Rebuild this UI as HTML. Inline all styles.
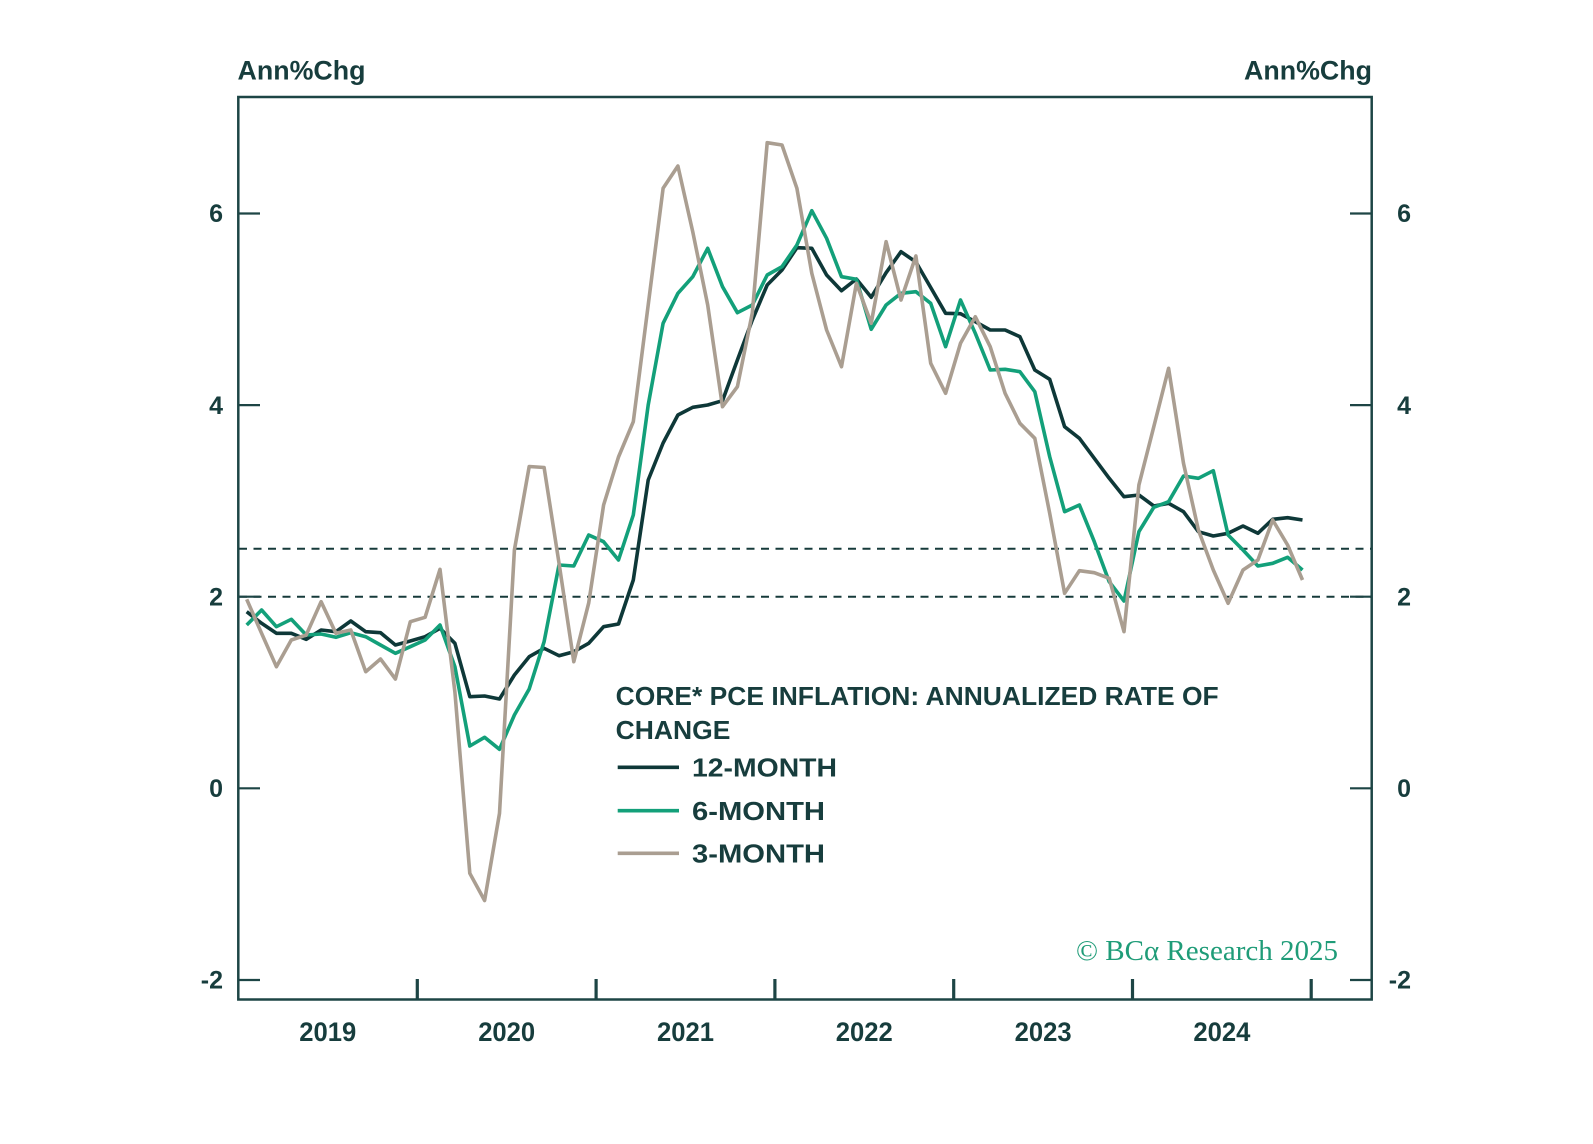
<!DOCTYPE html>
<html>
<head>
<meta charset="utf-8">
<style>
html,body{margin:0;padding:0;background:#ffffff;}
svg{display:block;}
.sans{font-family:"Liberation Sans",Arial,sans-serif;}
.serif{font-family:"Liberation Serif","DejaVu Serif",serif;}
</style>
</head>
<body>
<svg width="1593" height="1144" viewBox="0 0 1593 1144" xmlns="http://www.w3.org/2000/svg">
<rect x="0" y="0" width="1593" height="1144" fill="#ffffff"/>

<!-- axis titles -->
<text class="sans" x="237.5" y="79.5" font-size="27" font-weight="bold" fill="#173d3d" textLength="128" lengthAdjust="spacingAndGlyphs">Ann%Chg</text>
<text class="sans" x="1244" y="79.5" font-size="27" font-weight="bold" fill="#173d3d" textLength="128" lengthAdjust="spacingAndGlyphs">Ann%Chg</text>

<!-- dashed reference lines -->
<g stroke="#163a3a" stroke-width="2" stroke-dasharray="8 6.5" fill="none">
<line x1="239" y1="548.8" x2="1371" y2="548.8"/>
<line x1="239" y1="596.7" x2="1371" y2="596.7"/>
</g>

<!-- frame -->
<rect x="238.3" y="97" width="1133.4" height="902.5" fill="none" stroke="#1d4545" stroke-width="2.5"/>

<!-- y ticks -->
<g stroke="#1d4545" stroke-width="2.2">
<line x1="238" y1="213.5" x2="260" y2="213.5"/>
<line x1="238" y1="405.1" x2="260" y2="405.1"/>
<line x1="238" y1="596.7" x2="260" y2="596.7"/>
<line x1="238" y1="788.3" x2="260" y2="788.3"/>
<line x1="238" y1="980" x2="260" y2="980"/>
<line x1="1350" y1="213.5" x2="1372" y2="213.5"/>
<line x1="1350" y1="405.1" x2="1372" y2="405.1"/>
<line x1="1350" y1="596.7" x2="1372" y2="596.7"/>
<line x1="1350" y1="788.3" x2="1372" y2="788.3"/>
<line x1="1350" y1="980" x2="1372" y2="980"/>
</g>
<!-- x ticks -->
<g stroke="#1d4545" stroke-width="3.2">
<line x1="417.3" y1="979" x2="417.3" y2="1000"/>
<line x1="596.1" y1="979" x2="596.1" y2="1000"/>
<line x1="774.9" y1="979" x2="774.9" y2="1000"/>
<line x1="953.7" y1="979" x2="953.7" y2="1000"/>
<line x1="1132.5" y1="979" x2="1132.5" y2="1000"/>
<line x1="1311.2" y1="979" x2="1311.2" y2="1000"/>
</g>

<!-- y labels -->
<g class="sans" font-size="25" font-weight="bold" fill="#173d3d" text-anchor="end">
<text x="223" y="222.2">6</text>
<text x="223" y="413.8">4</text>
<text x="223" y="605.4">2</text>
<text x="223" y="797">0</text>
<text x="223" y="988.7">-2</text>
<text x="1411" y="222.2">6</text>
<text x="1411" y="413.8">4</text>
<text x="1411" y="605.4">2</text>
<text x="1411" y="797">0</text>
<text x="1411" y="988.7">-2</text>
</g>

<!-- year labels -->
<g class="sans" font-size="27" font-weight="bold" fill="#173d3d" text-anchor="middle">
<text x="327.8" y="1041" textLength="57" lengthAdjust="spacingAndGlyphs">2019</text>
<text x="506.7" y="1041" textLength="57" lengthAdjust="spacingAndGlyphs">2020</text>
<text x="685.5" y="1041" textLength="57" lengthAdjust="spacingAndGlyphs">2021</text>
<text x="864.3" y="1041" textLength="57" lengthAdjust="spacingAndGlyphs">2022</text>
<text x="1043.1" y="1041" textLength="57" lengthAdjust="spacingAndGlyphs">2023</text>
<text x="1221.9" y="1041" textLength="57" lengthAdjust="spacingAndGlyphs">2024</text>
</g>

<!-- series -->
<g fill="none" stroke-width="3.6" stroke-linejoin="round" stroke-linecap="butt">
<polyline stroke="#0e3838" points="246.7,611.7 261.6,623.3 276.4,633.3 291.3,633.3 306.2,639.3 321.1,630 335.9,631.7 350.8,621 365.7,631.7 380.5,632.7 395.4,645 410.3,641 425.1,636.7 440,628.3 454.9,643.3 469.8,696.7 484.6,696 499.5,699 514.4,675 529.2,656.7 544.1,648.3 559,655.7 573.8,651.7 588.7,643.3 603.6,626.7 618.5,624 633.3,580 648.2,480 663.1,443 677.9,415 692.8,407.3 707.7,405 722.5,400.7 737.4,360 752.3,320 767.2,285 782,270 796.9,247.7 811.8,248.3 826.6,275 841.5,290.7 856.4,279 871.2,297.3 886.1,272.7 901,251.7 915.9,262 930.7,287.5 945.6,313.3 960.5,313.7 975.3,321.7 990.2,330 1005.1,330 1019.9,336.7 1034.8,370 1049.7,379.3 1064.6,426.7 1079.4,438.3 1094.3,458.3 1109.2,478.3 1124,496.7 1138.9,495 1153.8,506 1168.6,503.3 1183.5,511.7 1198.4,531.7 1213.3,536 1228.1,533.3 1243,526 1257.9,533.3 1272.7,519.3 1287.6,517.7 1302.5,520"/>
<polyline stroke="#13a07a" points="246.7,625 261.6,610 276.4,626.7 291.3,619.3 306.2,635 321.1,634 335.9,637.3 350.8,632.7 365.7,636.7 380.5,645 395.4,653.3 410.3,646.7 425.1,640 440,625 454.9,666.7 469.8,746 484.6,737.3 499.5,749.3 514.4,715 529.2,689 544.1,641.7 559,565 573.8,566 588.7,535 603.6,541.7 618.5,560 633.3,515 648.2,405 663.1,323.3 677.9,293.3 692.8,276.7 707.7,248.3 722.5,286.7 737.4,312.7 752.3,305 767.2,275 782,266.7 796.9,245 811.8,210.7 826.6,238.3 841.5,276.7 856.4,279.3 871.2,329.3 886.1,305 901,293.3 915.9,291.7 930.7,303.3 945.6,346.7 960.5,300 975.3,333.3 990.2,370 1005.1,369.3 1019.9,371.7 1034.8,391.7 1049.7,456.7 1064.6,511.7 1079.4,505 1094.3,541.7 1109.2,581.7 1124,601 1138.9,531.7 1153.8,507.3 1168.6,501.7 1183.5,476 1198.4,478.3 1213.3,470.7 1228.1,535 1243,550 1257.9,566 1272.7,563.3 1287.6,557.3 1302.5,570"/>
<polyline stroke="#aa9e91" points="246.7,599.3 261.6,633.3 276.4,666.7 291.3,640 306.2,635 321.1,601.7 335.9,633.3 350.8,630 365.7,671.7 380.5,659 395.4,679 410.3,621.7 425.1,617.3 440,569.3 454.9,692 469.8,873.3 484.6,900.5 499.5,813.3 514.4,550 529.2,466.5 544.1,467.5 559,563 573.8,661.7 588.7,603 603.6,505 618.5,457 633.3,421.7 648.2,305 663.1,188.3 677.9,166 692.8,232 707.7,305 722.5,406.7 737.4,386.7 752.3,313 767.2,142.7 782,145 796.9,188.3 811.8,273.3 826.6,330 841.5,366.7 856.4,283.3 871.2,323.3 886.1,241.7 901,300 915.9,256 930.7,363.3 945.6,393.3 960.5,343.3 975.3,316.7 990.2,346.7 1005.1,393.3 1019.9,423.3 1034.8,438.3 1049.7,513.3 1064.6,593.3 1079.4,570.7 1094.3,572.7 1109.2,578.3 1124,631.7 1138.9,485 1153.8,426.7 1168.6,368.3 1183.5,463.3 1198.4,530 1213.3,570 1228.1,603.3 1243,570 1257.9,560 1272.7,520 1287.6,545 1302.5,580"/>
</g>

<!-- legend -->
<g class="sans" fill="#173d3d" font-size="26" font-weight="bold">
<text x="615.7" y="705" textLength="603" lengthAdjust="spacingAndGlyphs">CORE* PCE INFLATION: ANNUALIZED RATE OF</text>
<text x="615.7" y="738.8" textLength="114.7" lengthAdjust="spacingAndGlyphs">CHANGE</text>
<text x="692" y="776.5" textLength="145" lengthAdjust="spacingAndGlyphs">12-MONTH</text>
<text x="692" y="819.8" textLength="133" lengthAdjust="spacingAndGlyphs">6-MONTH</text>
<text x="692" y="862.3" textLength="133" lengthAdjust="spacingAndGlyphs">3-MONTH</text>
</g>
<g stroke-width="3.6">
<line x1="617.7" y1="767.3" x2="679" y2="767.3" stroke="#0e3838"/>
<line x1="617.7" y1="810.7" x2="679" y2="810.7" stroke="#13a07a"/>
<line x1="617.7" y1="853.3" x2="679" y2="853.3" stroke="#aa9e91"/>
</g>

<!-- watermark -->
<text x="1076" y="960" style="font-family:'Liberation Serif','DejaVu Serif',serif;" font-size="28" fill="#1f9c78" textLength="262" lengthAdjust="spacingAndGlyphs">© BCα Research 2025</text>
</svg>
</body>
</html>
